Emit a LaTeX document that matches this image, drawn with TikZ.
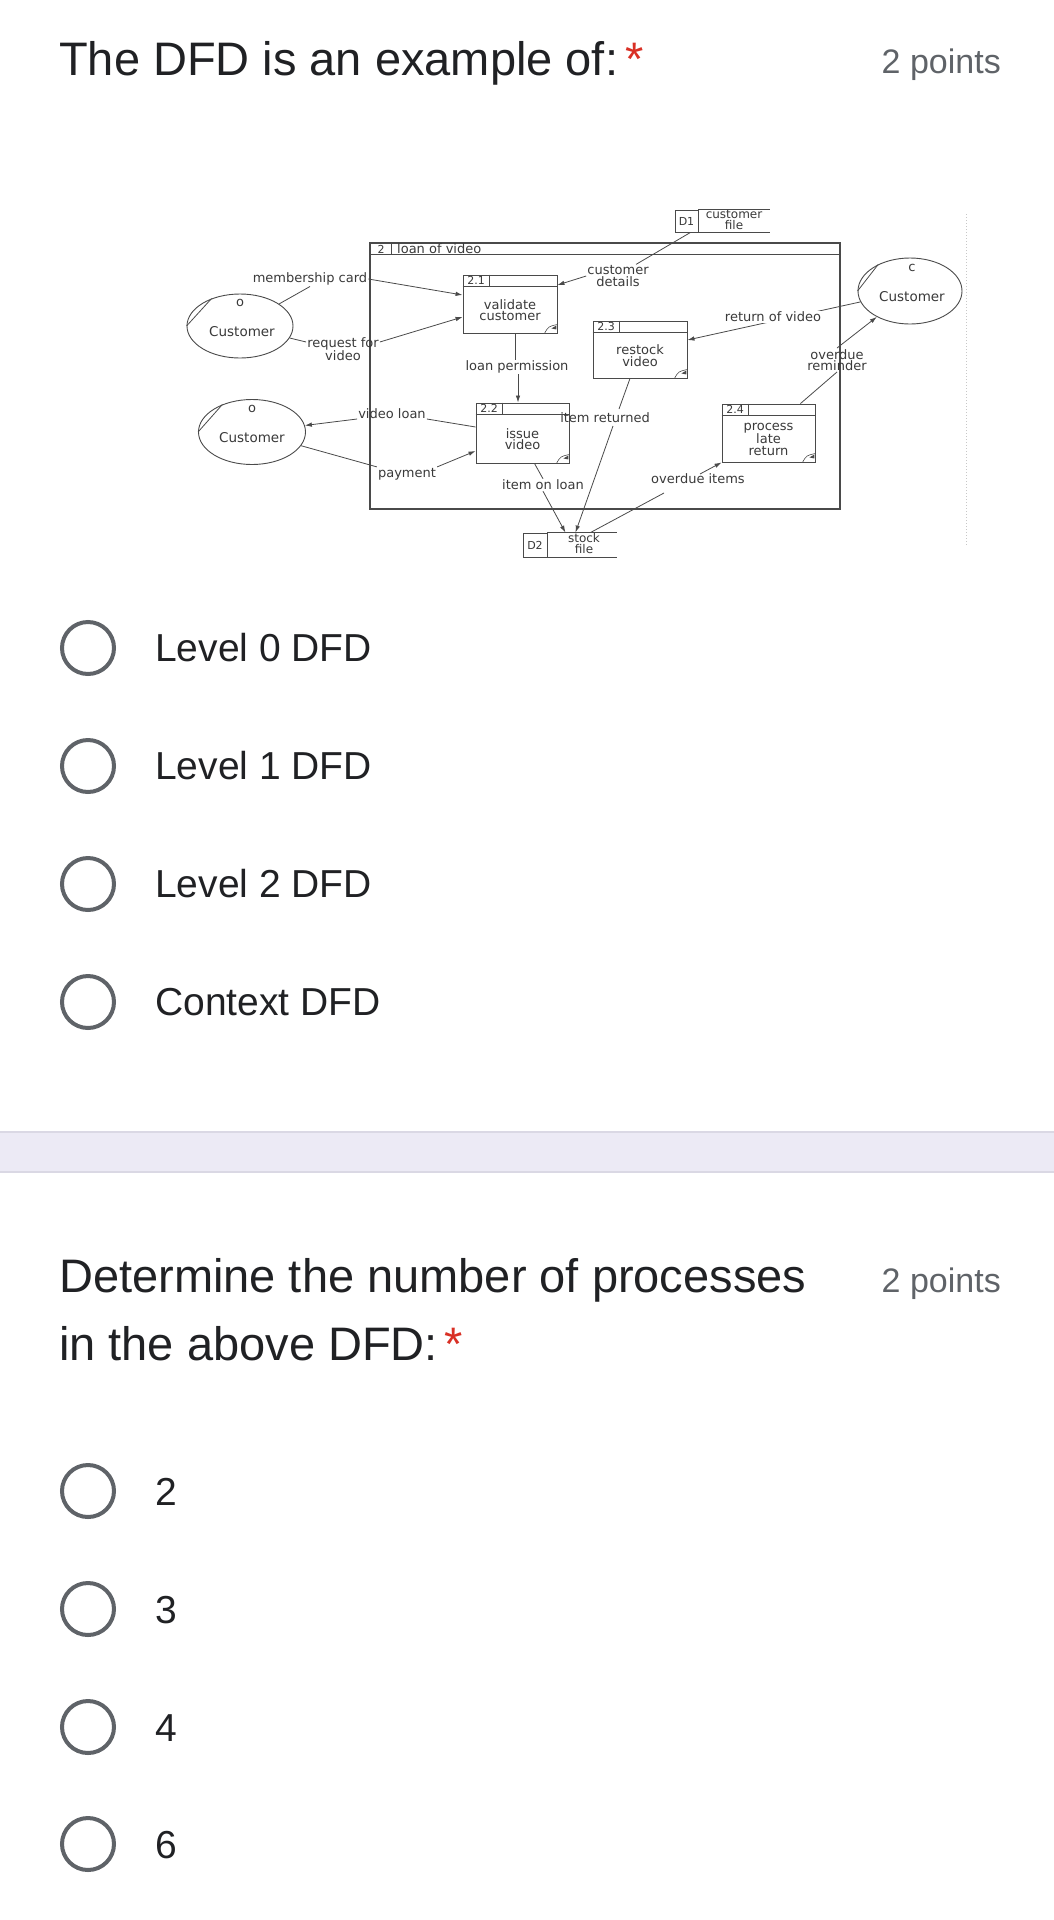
\documentclass[tikz,border=0pt]{standalone}
\usepackage{fontspec}
\setmainfont{Liberation Sans}
\newfontfamily\dfdfont{DejaVu Sans}
\usetikzlibrary{arrows.meta,shapes.geometric}
\definecolor{ink}{HTML}{202124}
\definecolor{sub}{HTML}{5F6368}
\definecolor{req}{HTML}{D93025}
\definecolor{band}{HTML}{ECEAF5}
\definecolor{bandline}{HTML}{DAD8E4}
\definecolor{dl}{HTML}{4A4A4A}
\definecolor{dt}{HTML}{3A3A3A}
\newcommand{\dfdproc}[6]{%
  \node[proc, minimum width=#3pt, minimum height=#4pt] (#1) at #2 {};
  \draw[dl, line width=0.7pt] ([yshift=-12pt]#1.north west) -- ([yshift=-12pt]#1.north east);
  \draw[dl, line width=0.7pt] ([xshift=27pt]#1.north west) -- ([xshift=27pt,yshift=-12pt]#1.north west);
  \node[pid] (#1id) at ([xshift=13.5pt,yshift=-6pt]#1.north west) {#5};
  \node[ptx] (#1tx) at ([yshift=-6pt]#1.center) {#6};
  \draw[dl, line width=0.6pt] ([xshift=-13pt]#1.south east) .. controls ([xshift=-9pt,yshift=7pt]#1.south east) .. ([yshift=9pt]#1.south east);
  \fill[dl] ([xshift=-6pt,yshift=5pt]#1.south east) -- ([xshift=-1pt,yshift=8pt]#1.south east) -- ([xshift=-1pt,yshift=4pt]#1.south east) -- cycle;
}
\begin{document}
\begin{tikzpicture}[x=1pt,y=-1pt,
  qtext/.style={anchor=base west, inner sep=0, text=ink, font=\fontsize{47}{56}\selectfont},
  pts/.style={anchor=base east, inner sep=0, text=sub, font=\fontsize{34}{40}\selectfont},
  opt/.style={anchor=base west, inner sep=0, text=ink, font=\fontsize{39}{46}\selectfont},
  radio/.style={circle, draw=sub, line width=4pt, minimum size=52pt, inner sep=0},
  flow/.style={draw=dl, line width=0.8pt},
  arr/.style={flow, -{Latex[length=7pt,width=4.5pt]}},
  lbl/.style={text=dt, font=\dfdfont\fontsize{13}{11.5}\selectfont, inner sep=1pt, align=center},
  ptx/.style={text=dt, font=\dfdfont\fontsize{13}{11.5}\selectfont, inner sep=0pt, align=center},
  pid/.style={text=dt, font=\dfdfont\fontsize{11}{11}\selectfont, inner sep=0pt},
  ent/.style={ellipse, draw=dl, line width=0.9pt, inner sep=0},
  proc/.style={rectangle, draw=dl, line width=0.9pt, inner sep=0},
]
\useasboundingbox (0,0) rectangle (1054,1920);
\fill[white] (0,0) rectangle (1054,1920);

% ---------- question 1 ----------
\node[qtext] (q1) at (59,75) {The DFD is an example of:\hspace{7pt}\textcolor{req}{*}};
\node[pts] (q1p) at (1001,73) {2 points};

% ---------- diagram ----------
% system boundary
\node[proc, minimum width=470pt, minimum height=266pt, line width=1.2pt] (bnd) at (605,376) {};
\draw[dl, line width=1.1pt] ([yshift=-12pt]bnd.north west) -- ([yshift=-12pt]bnd.north east);
\draw[dl, line width=0.8pt] ([xshift=22pt]bnd.north west) -- ([xshift=22pt,yshift=-12pt]bnd.north west);
\node[pid] (bndid) at (381,249) {2};
\node[ptx, anchor=west] (bndt) at (397,249) {loan of video};

% processes
\dfdproc{p21}{(510,304)}{94}{58}{2.1}{validate\\customer}
\dfdproc{p22}{(522.5,433)}{93}{60}{2.2}{issue\\video}
\dfdproc{p23}{(640,349.5)}{94}{57}{2.3}{restock\\video}
\dfdproc{p24}{(768.5,433)}{93}{58}{2.4}{process\\late\\return}

% data stores
\node[proc, minimum width=23pt, minimum height=22pt, pid] (d1) at (686.5,221) {D1};
\node[ptx, font=\dfdfont\fontsize{12}{11}\selectfont] (d1f) at (734,220) {customer\\file};
\draw[dl, line width=0.9pt] (d1.north east) -- ++(72,0);
\draw[dl, line width=0.9pt] (d1.south east) -- ++(72,0);
\node[proc, minimum width=24pt, minimum height=24pt, pid] (d2) at (535,545) {D2};
\node[ptx, font=\dfdfont\fontsize{12}{11}\selectfont] (d2f) at (584,544) {stock\\file};
\draw[dl, line width=0.9pt] (d2.north east) -- ++(70,0);
\draw[dl, line width=0.9pt] (d2.south east) -- ++(70,0);

% external entities
\node[ent, minimum width=106pt, minimum height=64pt] (e1) at (240,326) {};
\node[ptx] (e1o) at (240,303) {o};
\node[ptx, font=\dfdfont\fontsize{13.5}{12}\selectfont] (e1n) at (242,332) {Customer};
\draw[flow] (e1.west) -- (e1.136);
\node[ent, minimum width=107pt, minimum height=65pt] (e2) at (252,432) {};
\node[ptx] (e2o) at (252,409) {o};
\node[ptx, font=\dfdfont\fontsize{13.5}{12}\selectfont] (e2n) at (252,438) {Customer};
\draw[flow] (e2.west) -- (e2.137);
\node[ent, minimum width=104pt, minimum height=66pt] (e3) at (910,291) {};
\node[ptx] (e3o) at (912,268) {c};
\node[ptx, font=\dfdfont\fontsize{13.5}{12}\selectfont] (e3n) at (912,297) {Customer};
\draw[flow] (e3.west) -- (e3.140);

% labels
\node[lbl] (mc) at (310,279) {membership card};
\node[lbl] (rq) at (343,349) {request for\\video};
\node[lbl] (cd) at (618,276) {customer\\details};
\node[lbl] (orm) at (837,360) {overdue\\reminder};
\node[lbl] (lp) at (517,367) {loan permission};
\node[lbl] (ir) at (605,418) {item returned};
\node[lbl] (vl) at (392,414) {video loan};
\node[lbl] (pay) at (407,474) {payment};
\node[lbl] (iol) at (543,485) {item on loan};
\node[lbl] (oi) at (698,479) {overdue items};
\coordinate (ir1) at (619,409);
\coordinate (ir2) at (613,426);
\coordinate (oi1) at (664,493);
\coordinate (oi2) at (700,474);

% flows
\draw[flow] (e1) -- (mc.south);
\draw[arr] (mc.east) -- ([yshift=9pt]p21.west);
\draw[flow] (e1) -- ([yshift=-6pt]rq.north west);
\draw[arr] ([yshift=-6pt]rq.north east) -- ([yshift=-13pt]p21.west);
\draw[flow] ([xshift=-8pt]d1.south east) -- ([xshift=18pt]cd.north);
\draw[arr] (cd.west) -- ([yshift=19pt]p21.east);
\draw[arr] (e3) -- ([yshift=9.5pt]p23.east);
\node[lbl, fill=white] (rv) at (773,317) {return of video};
\draw[flow] ([xshift=-15pt]p24.north east) -- (orm.south);
\draw[arr] (orm.north) -- (e3);
\draw[flow] ([xshift=5pt]p21.south) -- ([xshift=-2pt]lp.north);
\draw[arr] ([xshift=1pt]lp.south) -- ([xshift=-4.5pt]p22.north);
\draw[flow] ([xshift=-10pt]p23.south) -- (ir1);
\draw[arr] (ir2) -- ([xshift=28pt]d2.north east);
\draw[flow] ([xshift=12pt]p22.south) -- (iol.north);
\draw[arr] (iol.south) -- ([xshift=18pt]d2.north east);
\draw[flow] ([xshift=43pt]d2.north east) -- (oi1);
\draw[arr] (oi2) -- (p24.south west);
\draw[flow] ([yshift=6pt]p22.west) -- ([yshift=-5pt]vl.east);
\draw[arr] ([yshift=-5pt]vl.west) -- (e2);
\draw[flow] (e2) -- (pay.north west);
\draw[arr] (pay.north east) -- ([yshift=-18pt]p22.west);

% faint dotted edge of the scanned picture
\draw[black!22, dotted, line width=1pt] (966,214) -- (966,545);

% ---------- options 1 ----------
\node[radio] (r1) at (88,648) {};
\node[opt] (t1) at (155,661) {Level 0 DFD};
\node[radio] (r2) at (88,766) {};
\node[opt] (t2) at (155,779) {Level 1 DFD};
\node[radio] (r3) at (88,884) {};
\node[opt] (t3) at (155,897) {Level 2 DFD};
\node[radio] (r4) at (88,1002) {};
\node[opt] (t4) at (155,1015) {Context DFD};

% ---------- separator band ----------
\fill[band] (0,1132) rectangle (1054,1172);
\draw[bandline, line width=1.5pt] (0,1132) -- (1054,1132);
\draw[bandline, line width=1.5pt] (0,1172) -- (1054,1172);

% ---------- question 2 ----------
\node[qtext] (q2a) at (59,1292) {Determine the number of processes};
\node[qtext] (q2b) at (59,1360) {in the above DFD:\hspace{7pt}\textcolor{req}{*}};
\node[pts] (q2p) at (1001,1292) {2 points};

\node[radio] (s1) at (88,1491) {};
\node[opt] (u1) at (155,1505) {2};
\node[radio] (s2) at (88,1609) {};
\node[opt] (u2) at (155,1623) {3};
\node[radio] (s3) at (88,1727) {};
\node[opt] (u3) at (155,1741) {4};
\node[radio] (s4) at (88,1844) {};
\node[opt] (u4) at (155,1858) {6};
\end{tikzpicture}
\end{document}
